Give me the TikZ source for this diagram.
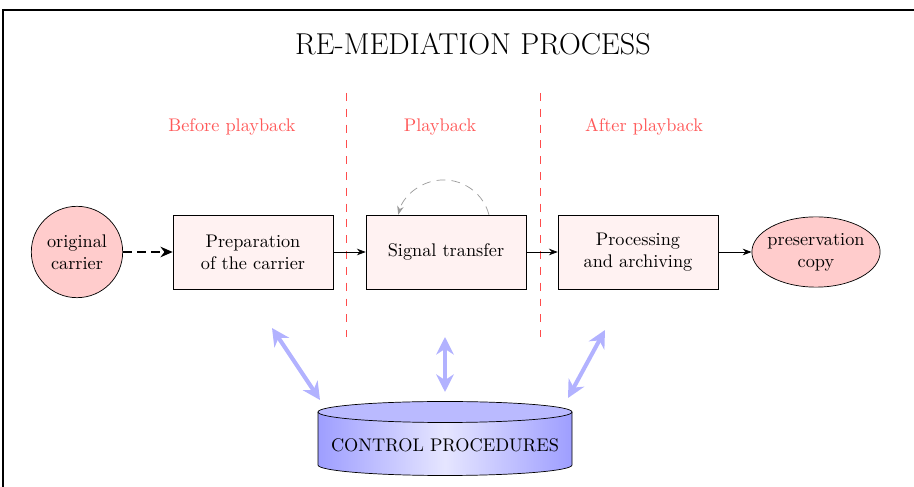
\documentclass[tikz,border=0pt]{standalone}
\usetikzlibrary{arrows.meta,shapes.geometric}
\begin{document}
\begin{tikzpicture}[x=0.02cm,y=0.02cm,
  every node/.style={font=\fontsize{10.4}{12.6}\selectfont},
  stage/.style={draw, fill=red!5, minimum width=91pt, minimum height=42pt, align=center, inner sep=2pt},
  carrier/.style={draw, fill=red!20, align=center, inner sep=0pt},
  phase/.style={text=red!65},
  divider/.style={red!70, dash pattern=on 4.5pt off 4.5pt},
  link/.style={-{Stealth[length=5pt]}},
  sync/.style={{Stealth[length=10pt,width=10pt]}-{Stealth[length=10pt,width=10pt]}, line width=2.3pt, blue!30}]
\useasboundingbox (0,0) rectangle (914,487);
\draw[line width=1.2pt] (3,-30) -- (3,477) -- (950,477);
\node[font=\fontsize{17.2}{20}\selectfont] (title) at (473,443) {RE-MEDIATION PROCESS};
% phases
\node[phase] (before) at (232,360) {Before playback};
\node[phase] (play) at (440,360) {Playback};
\node[phase] (after) at (644,360) {After playback};
\draw[divider] (346,394) -- (346,150);
\draw[divider] (540,394) -- (540,150);
% chain
\node[carrier, circle, minimum size=52pt] (orig) at (77,235) {original\\carrier};
\node[stage] (prep) at (253,235) {Preparation\\of the carrier};
\node[stage] (sig) at (446,235) {Signal transfer};
\node[stage] (proc) at (638,235) {Processing\\and archiving};
\node[carrier, ellipse, inner sep=-2pt, minimum width=73pt, minimum height=40pt] (copy) at (816,235) {preservation\\copy};
\draw[-{Stealth[length=7pt,width=6pt]}, thick, dash pattern=on 5pt off 3pt] (orig) -- (prep);
\draw[link] (prep) -- (sig);
\draw[link] (sig) -- (proc);
\draw[link] (proc) -- (copy);
\draw[gray!80, dash pattern=on 5pt off 3.5pt, -{Stealth[length=5pt]}] ([xshift=0.86cm]sig.north) arc[start angle=15, end angle=165, radius=47];
% control procedures
\shade[left color=blue!38, right color=blue!38, middle color=blue!10] (318,75) -- (318,22) arc[start angle=180, end angle=360, x radius=127, y radius=10.5] -- (572,75) -- cycle;
\filldraw[fill=blue!27] (445,75) ellipse[x radius=127, y radius=10.5];
\draw (318,75) -- (318,22) arc[start angle=180, end angle=360, x radius=127, y radius=10.5] -- (572,75);
\node (ctrl) at (445,42) {CONTROL PROCEDURES};
\coordinate (a1) at (272,159); \coordinate (b1) at (320,87);
\coordinate (a2) at (445,150); \coordinate (b2) at (445,95);
\coordinate (a3) at (605,157); \coordinate (b3) at (568,89);
\draw[sync] (a1) -- (b1);
\draw[sync] (a2) -- (b2);
\draw[sync] (a3) -- (b3);
\end{tikzpicture}
\end{document}
